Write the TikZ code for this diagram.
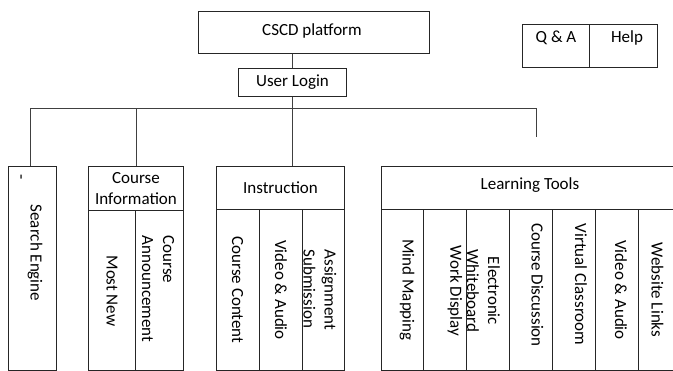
\documentclass[tikz,border=0pt]{standalone}
\usepackage{fontspec}
\setmainfont{Carlito}
\begin{document}
\begin{tikzpicture}[x=1pt,y=-1pt,
  box/.style={draw=black!85, line width=1pt, inner sep=0pt, anchor=north west},
  txt/.style={font=\fontsize{17}{21}\selectfont, inner sep=0pt, text=black},
  vtxt/.style={txt, rotate=-90},
  conn/.style={draw=black!75, line width=1pt}]
\useasboundingbox (0,0) rectangle (673,371);
\clip (0,0) rectangle (673,371);
% top boxes
\node[box, minimum width=231pt, minimum height=42pt] (cscd) at (198,11) {};
\node[txt] (cscdt) at (312,31) {CSCD platform};
\node[box, minimum width=108pt, minimum height=28pt, txt] (login) at (238,68) {User Login};
\node[box, minimum width=67pt, minimum height=43pt] (qa) at (522,24) {};
\node[box, minimum width=68pt, minimum height=43pt] (help) at (589,24) {};
\node[txt] (qat) at (556,38) {Q \& A};
\node[txt] (helpt) at (627,38) {Help};
% search engine
\node[box, minimum width=48pt, minimum height=204pt] (search) at (8,166) {};
\node[vtxt] (searcht) at (35,253) {Search Engine};
\node[vtxt] (tick) at (19,177) {-};
% course information
\node[box, minimum width=95pt, minimum height=44pt, txt, align=center] (ci) at (88,166) {Course\\Information};
\node[box, minimum width=47pt, minimum height=160pt] (mn) at (88,210) {};
\node[box, minimum width=48pt, minimum height=160pt] (ca) at (135,210) {};
\node[vtxt] (mnt) at (112,291) {Most New};
\node[vtxt, align=left] (cat) at (158,289) {Course\\Announcement};
% instruction
\node[box, minimum width=128pt, minimum height=43pt, txt] (instr) at (216,166) {Instruction};
\node[box, minimum width=43pt, minimum height=161pt] (cc) at (216,209) {};
\node[box, minimum width=43pt, minimum height=161pt] (va) at (259,209) {};
\node[box, minimum width=42pt, minimum height=161pt] (as) at (302,209) {};
\node[vtxt] (cct) at (237.5,290) {Course Content};
\node[vtxt] (vat) at (281,290) {Video \& Audio};
\node[vtxt, align=left] (ast) at (320,290) {Assignment\\Submission};
% learning tools
\node[box, minimum width=310pt, minimum height=43pt] (lt) at (381,166) {};
\node[txt] (ltt) at (530,185) {Learning Tools};
\node[box, minimum width=42pt, minimum height=161pt] (l1) at (381,209) {};
\node[box, minimum width=43pt, minimum height=161pt] (l2) at (423,209) {};
\node[box, minimum width=43pt, minimum height=161pt] (l3) at (466,209) {};
\node[box, minimum width=43pt, minimum height=161pt] (l4) at (509,209) {};
\node[box, minimum width=43pt, minimum height=161pt] (l5) at (552,209) {};
\node[box, minimum width=43pt, minimum height=161pt] (l6) at (595,209) {};
\node[box, minimum width=43pt, minimum height=161pt] (l7) at (638,209) {};
\node[vtxt] (l1t) at (407,290) {Mind Mapping};
\node[vtxt] (l2t) at (455,291) {Work Display};
\node[vtxt, align=center] (l3t) at (483.5,291) {Electronic\\Whiteboard};
\node[vtxt] (l4t) at (537.5,285) {Course Discussion};
\node[vtxt] (l5t) at (581,284.5) {Virtual Classroom};
\node[vtxt] (l6t) at (621,290) {Video \& Audio};
\node[vtxt] (l7t) at (657.5,290) {Website Links};
% connectors
\coordinate (busL) at (30,109);
\coordinate (busR) at (536,109);
\coordinate (stubEnd) at (536,137);
\draw[conn] (login.north) -- (login.north |- cscd.south);
\draw[conn] (login.south) -- (login.south |- instr.north);
\draw[conn] (busL |- search.north) -- (busL) -- (busR) -- (stubEnd);
\draw[conn] (ci.north) -- (ci.north |- busL);
\end{tikzpicture}
\end{document}
